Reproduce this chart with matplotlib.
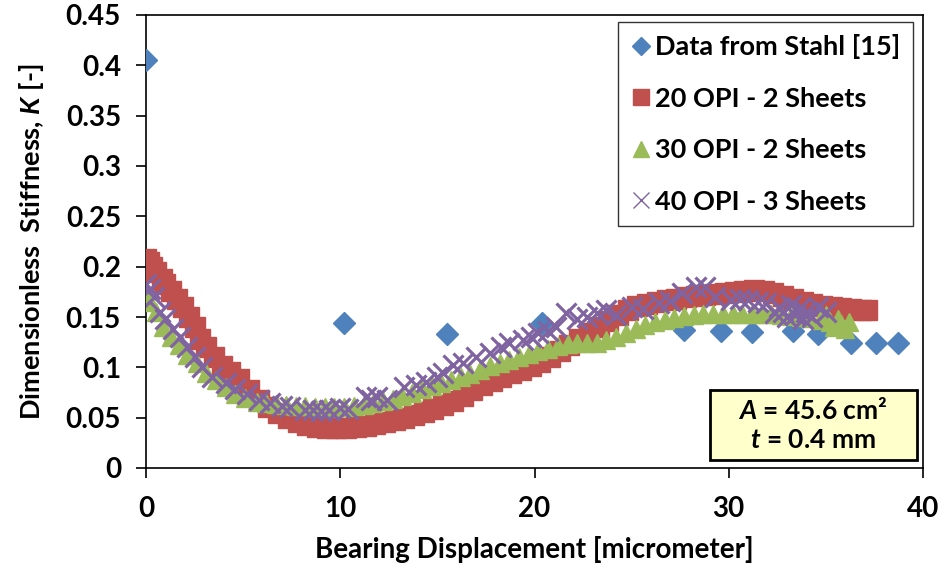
import matplotlib
matplotlib.use("Agg")
import matplotlib.pyplot as plt
from matplotlib.patches import Rectangle

plt.rcParams['font.family'] = ['Lato', 'DejaVu Sans']
plt.rcParams['font.weight'] = 'bold'
plt.rcParams['mathtext.fontset'] = 'custom'
plt.rcParams['mathtext.rm'] = 'Lato:bold'
plt.rcParams['mathtext.it'] = 'Lato:italic:bold'

# Data from Stahl [15]
stahl_x = [0.0, 10.2, 15.5, 20.4, 27.7, 29.6, 31.2, 33.3, 34.6, 36.3, 37.6, 38.7]
stahl_y = [0.405, 0.144, 0.133, 0.144, 0.137, 0.136, 0.135, 0.136, 0.133, 0.124, 0.124, 0.124]

# 20 OPI - 2 Sheets
opi20_x = [0.0, 0.15, 0.3, 0.5, 0.8, 1.0, 1.3, 1.6, 1.9, 2.2, 2.5, 2.8, 3.1, 3.5, 3.9, 4.3,
           4.8, 5.3, 5.8, 6.3, 6.8, 7.3, 7.8, 8.3, 8.8, 9.3, 9.8, 10.3, 10.8, 11.3, 11.8,
           12.3, 12.8, 13.3, 13.8, 14.3, 14.8, 15.3, 15.8, 16.3, 16.8, 17.3, 17.8, 18.3,
           18.8, 19.3, 19.8, 20.3, 20.8, 21.3, 21.8, 22.3, 22.8, 23.3, 23.8, 24.3, 24.8,
           25.3, 25.8, 26.3, 26.8, 27.3, 27.8, 28.3, 28.8, 29.3, 29.8, 30.3, 30.8, 31.3,
           31.8, 32.3, 32.8, 33.3, 33.8, 34.3, 34.8, 35.3, 35.8, 36.3, 36.8, 37.1]
opi20_y = [0.208, 0.205, 0.200, 0.195, 0.188, 0.183, 0.176, 0.168, 0.160, 0.150, 0.140,
           0.128, 0.120, 0.110, 0.101, 0.095, 0.088, 0.077, 0.068, 0.061, 0.055, 0.050,
           0.046, 0.043, 0.041, 0.040, 0.040, 0.040, 0.041, 0.042, 0.044, 0.046, 0.048,
           0.050, 0.053, 0.056, 0.059, 0.063, 0.067, 0.072, 0.077, 0.082, 0.086, 0.090,
           0.094, 0.097, 0.101, 0.105, 0.110, 0.116, 0.122, 0.128, 0.134, 0.140, 0.146,
           0.152, 0.157, 0.161, 0.163, 0.165, 0.167, 0.168, 0.170, 0.171, 0.172, 0.173,
           0.174, 0.175, 0.176, 0.177, 0.176, 0.174, 0.171, 0.168, 0.165, 0.163, 0.161,
           0.160, 0.159, 0.158, 0.157, 0.157]

# 30 OPI - 2 Sheets
opi30_x = [0.0, 0.2, 0.5, 0.9, 1.3, 1.7, 2.1, 2.6, 3.1, 3.6, 4.1, 4.6, 5.1, 5.7, 6.2, 6.7,
           7.2, 7.7, 8.2, 8.7, 9.2, 9.7, 10.2, 10.7, 11.2, 11.7, 12.2, 12.7, 13.2, 13.7,
           14.2, 14.7, 15.2, 15.7, 16.2, 16.7, 17.2, 17.7, 18.2, 18.7, 19.2, 19.7, 20.2,
           20.7, 21.2, 21.7, 22.2, 22.7, 23.2, 23.7, 24.2, 24.7, 25.2, 25.7, 26.2, 26.7,
           27.2, 27.7, 28.2, 28.7, 29.2, 29.7, 30.2, 30.7, 31.2, 31.7, 32.2, 32.7, 33.2,
           33.7, 34.2, 34.7, 35.0, 35.2, 35.4, 35.6, 35.8, 36.0, 36.2]
opi30_y = [0.170, 0.165, 0.155, 0.140, 0.130, 0.122, 0.112, 0.104, 0.094, 0.087, 0.080,
           0.074, 0.070, 0.066, 0.065, 0.064, 0.063, 0.062, 0.062, 0.061, 0.061, 0.061,
           0.061, 0.062, 0.063, 0.065, 0.067, 0.069, 0.072, 0.075, 0.078, 0.081, 0.084,
           0.087, 0.090, 0.093, 0.097, 0.101, 0.104, 0.107, 0.110, 0.113, 0.116, 0.118,
           0.121, 0.123, 0.124, 0.124, 0.124, 0.127, 0.130, 0.134, 0.138, 0.142, 0.145,
           0.147, 0.149, 0.151, 0.152, 0.153, 0.153, 0.153, 0.153, 0.153, 0.153, 0.153,
           0.153, 0.152, 0.151, 0.150, 0.149, 0.147, 0.152, 0.145, 0.140, 0.148, 0.143,
           0.138, 0.145]

# 40 OPI - 3 Sheets
opi40_x = [0.0, 0.2, 0.4, 0.7, 1.0, 1.4, 1.75, 2.1, 2.5, 2.9, 3.4, 4.1, 4.6, 5.2, 5.8, 6.4,
           7.0, 7.4, 8.2, 8.6, 9.0, 9.4, 10.0, 10.4, 11.3, 11.6, 11.9, 12.4, 13.3, 13.9,
           14.4, 15.0, 15.3, 15.8, 16.3, 17.0, 17.7, 18.3, 18.7, 19.4, 19.8, 20.2, 20.7,
           21.1, 21.6, 22.2, 22.7, 23.2, 23.7, 24.2, 25.0, 25.6, 26.4, 27.0, 27.6, 28.3,
           28.8, 29.3, 30.1, 30.6, 31.0, 31.5, 31.9, 32.4, 32.6, 32.8, 33.0, 33.2, 33.4,
           33.6, 33.8, 34.0, 34.3, 34.6, 35.0]
opi40_y = [0.183, 0.178, 0.170, 0.155, 0.148, 0.138, 0.130, 0.120, 0.110, 0.100, 0.090,
           0.084, 0.078, 0.074, 0.068, 0.065, 0.062, 0.061, 0.058, 0.058, 0.057, 0.058,
           0.060, 0.059, 0.071, 0.068, 0.071, 0.068, 0.080, 0.082, 0.085, 0.090, 0.094,
           0.102, 0.104, 0.110, 0.114, 0.120, 0.124, 0.127, 0.130, 0.134, 0.136, 0.140,
           0.154, 0.148, 0.150, 0.154, 0.157, 0.152, 0.160, 0.158, 0.164, 0.166, 0.174,
           0.180, 0.180, 0.170, 0.167, 0.168, 0.167, 0.165, 0.164, 0.154, 0.160, 0.155,
           0.150, 0.162, 0.152, 0.158, 0.148, 0.155, 0.150, 0.160, 0.155]

series_labels = ["Data from Stahl [15]", "20 OPI - 2 Sheets", "30 OPI - 2 Sheets", "40 OPI - 3 Sheets"]
x_ticks = [0, 10, 20, 30, 40]
y_ticks = [0, 0.05, 0.1, 0.15, 0.2, 0.25, 0.3, 0.35, 0.4, 0.45]
y_tick_labels = ["0", "0.05", "0.1", "0.15", "0.2", "0.25", "0.3", "0.35", "0.4", "0.45"]

fig = plt.figure(figsize=(9.42, 5.69), dpi=100)
ax = fig.add_axes([146/942, 1 - 468/569, 777/942, 453/569])

ax.plot(stahl_x, stahl_y, linestyle='none', marker='D', ms=11, color='#4F81BD',
        mec='#4F81BD', label=series_labels[0], zorder=3)
ax.plot(opi20_x, opi20_y, linestyle='none', marker='s', ms=14, color='#C0504D',
        mec='#C0504D', label=series_labels[1], zorder=4)
ax.plot(opi30_x, opi30_y, linestyle='none', marker='^', ms=13, color='#9BBB59',
        mec='#9BBB59', label=series_labels[2], zorder=5)
ax.plot(opi40_x, opi40_y, linestyle='none', marker='x', ms=14, mew=2.3, color='#8064A2',
        label=series_labels[3], zorder=6)

ax.set_xlim(0, 40)
ax.set_ylim(0, 0.45)
ax.set_xticks(x_ticks)
ax.set_yticks(y_ticks)
ax.set_yticklabels(y_tick_labels)
ax.tick_params(axis='both', direction='out', length=7, width=1.2, labelsize=20)
ax.tick_params(axis='x', pad=13)
ax.tick_params(axis='y', pad=11)
for s in ax.spines.values():
    s.set_linewidth(1.2)

ax.set_xlabel("Bearing Displacement [micrometer]", fontsize=20, fontweight='bold', labelpad=10)
ax.set_ylabel(r"Dimensionless  Stiffness, $\mathit{K}$ [-]", fontsize=19.5, fontweight='bold', labelpad=14)

leg = ax.legend(loc='upper right', bbox_to_anchor=(0.987, 0.985), borderaxespad=0,
                fancybox=False, frameon=True, fontsize=19.5, handletextpad=0.15,
                handlelength=0.8, labelspacing=1.02, borderpad=0.45, markerscale=0.85)
leg.get_frame().set_edgecolor('black')
leg.get_frame().set_linewidth(1.0)
for h in leg.legend_handles:
    if h.get_marker() == 'x':
        h.set_markeredgewidth(1.0)

box = Rectangle((0.726, 0.018), 0.266, 0.154, transform=ax.transAxes, facecolor='#FFFFCC',
                edgecolor='black', linewidth=2, zorder=9)
ax.add_patch(box)
ax.text(0.858, 0.095, "$\\mathit{A}$ = 45.6 cm²\n$\\mathit{t}$ = 0.4 mm", transform=ax.transAxes,
        ha='center', va='center', fontsize=19, fontweight='bold', linespacing=1.25, zorder=10)

fig.savefig("out.png", dpi=100)
